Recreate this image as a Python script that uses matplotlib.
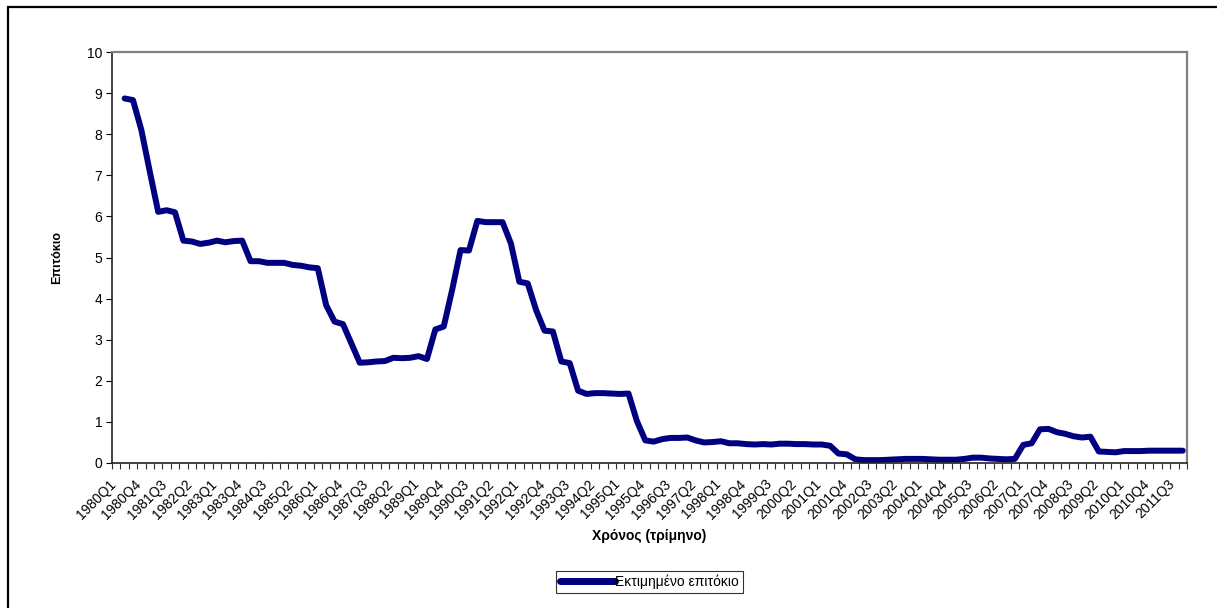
import numpy as np
import matplotlib
matplotlib.use("Agg")
import matplotlib.pyplot as plt
import matplotlib.transforms as mtransforms
from matplotlib.patches import Rectangle
from matplotlib.ticker import MultipleLocator, FixedLocator

plt.rcParams['font.family'] = ['Liberation Sans', 'DejaVu Sans']

# --- Datos ---
years = list(range(1980, 2012))
quarters = [f"{y}Q{q}" for y in years for q in range(1, 5)]

# 1980Q1 sin valor
rate = [np.nan,
        8.87, 8.83, 8.10, 7.09, 6.11, 6.15, 6.10, 5.41, 5.39, 5.33,
        5.36, 5.41, 5.37, 5.40, 5.41, 4.91, 4.91, 4.87, 4.87, 4.87,
        4.82, 4.80, 4.76, 4.74, 3.84, 3.44, 3.38, 2.91, 2.44, 2.45,
        2.47, 2.48, 2.56, 2.55, 2.56, 2.60, 2.53, 3.25, 3.32, 4.21,
        5.18, 5.17, 5.89, 5.86, 5.86, 5.86, 5.34, 4.41, 4.37, 3.72,
        3.22, 3.20, 2.47, 2.43, 1.76, 1.68, 1.70, 1.70, 1.69, 1.68,
        1.69, 1.02, 0.55, 0.52, 0.58, 0.61, 0.61, 0.62, 0.55, 0.50,
        0.51, 0.53, 0.48, 0.48, 0.46, 0.45, 0.46, 0.45, 0.47, 0.47,
        0.46, 0.46, 0.45, 0.45, 0.42, 0.23, 0.21, 0.09, 0.07, 0.07,
        0.07, 0.08, 0.09, 0.10, 0.10, 0.10, 0.09, 0.08, 0.08, 0.08,
        0.10, 0.13, 0.13, 0.11, 0.10, 0.09, 0.10, 0.44, 0.48, 0.82,
        0.83, 0.75, 0.71, 0.65, 0.62, 0.64, 0.28, 0.27, 0.26, 0.29,
        0.29, 0.29, 0.30, 0.30, 0.30, 0.30, 0.30]

x = np.arange(len(quarters))

# --- Figura ---
fig = plt.figure(figsize=(12.17, 6.08), dpi=100)
ax = fig.add_axes([112/1217, 1-463/608, (1187-112)/1217, (463-52)/608])

ax.plot(x, rate, color="#000080", lw=4.3, solid_capstyle="round",
        solid_joinstyle="round", label="Εκτιμημένο επιτόκιο")

ax.set_xlim(-0.5, len(quarters) - 0.5)
ax.set_ylim(0, 10)
ax.yaxis.set_major_locator(MultipleLocator(1))

# etiquetas cada 3 trimestres, marcas en cada límite
ax.set_xticks(x[::3])
ax.set_xticklabels(quarters[::3], rotation=45, ha="right", va="top",
                   rotation_mode="anchor", fontsize=10)
ax.tick_params(axis="x", which="major", length=0, pad=10)
offset = mtransforms.ScaledTranslation(-7/100, 0, fig.dpi_scale_trans)
for lbl in ax.get_xticklabels():
    lbl.set_transform(lbl.get_transform() + offset)
ax.xaxis.set_minor_locator(FixedLocator(np.arange(-0.5, len(quarters), 1)))
ax.tick_params(axis="x", which="minor", length=4, width=0.8, color="#333333")
ax.tick_params(axis="y", length=4, width=0.8, labelsize=10, pad=3)

for s in ["top", "right"]:
    ax.spines[s].set_color("#808080")
    ax.spines[s].set_linewidth(1.6)
for s in ["left", "bottom"]:
    ax.spines[s].set_color("#222222")
    ax.spines[s].set_linewidth(1.2)

ax.set_xlabel("Χρόνος (τρίμηνο)", fontsize=10, fontweight="bold", labelpad=5)
ax.set_ylabel("Επιτόκιο", fontsize=9, fontweight="bold", labelpad=17)

leg = fig.legend(loc="center", bbox_to_anchor=(649.5/1217, 1-582/608),
                 fontsize=10, frameon=True, fancybox=False, handlelength=4.0,
                 handletextpad=0.0, borderpad=0.3, borderaxespad=0)
leg.get_frame().set_edgecolor("black")
leg.get_frame().set_linewidth(0.8)
leg.get_lines()[0].set_linewidth(5)

# marco exterior
fig.patches.append(Rectangle((8/1217, -0.05), 1.1, 1 - 7/608 + 0.05,
                             transform=fig.transFigure, fill=False,
                             edgecolor="black", lw=1.6))

fig.savefig("out.png", dpi=100)
